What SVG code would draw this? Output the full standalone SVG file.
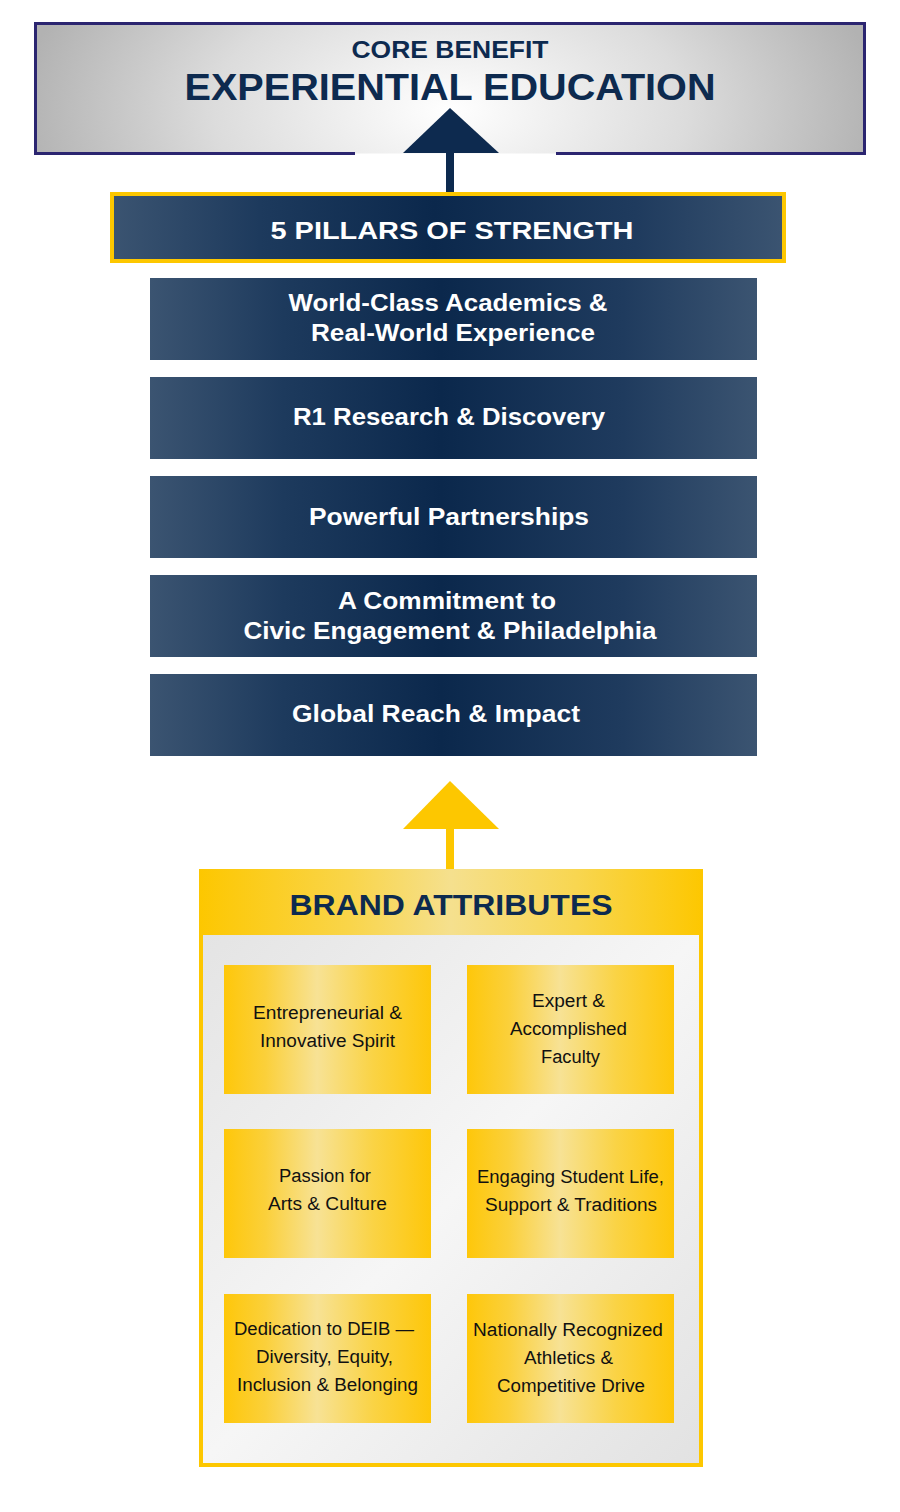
<svg xmlns="http://www.w3.org/2000/svg" width="900" height="1512" viewBox="0 0 900 1512">
  <defs>
    <radialGradient id="gTop" cx="450" cy="110" r="430" gradientUnits="userSpaceOnUse" gradientTransform="translate(450 110) scale(1 0.55) translate(-450 -110)">
      <stop offset="0" stop-color="#ffffff"/>
      <stop offset="0.55" stop-color="#dcdcdc"/>
      <stop offset="1" stop-color="#b2b2b2"/>
    </radialGradient>
    <linearGradient id="gNavy" x1="0" y1="0" x2="1" y2="0">
      <stop offset="0" stop-color="#3b5471"/>
      <stop offset="0.22" stop-color="#1d3a5d"/>
      <stop offset="0.48" stop-color="#0b284c"/>
      <stop offset="0.78" stop-color="#1f3b5e"/>
      <stop offset="1" stop-color="#3b5471"/>
    </linearGradient>
    <linearGradient id="gHead" x1="0" y1="0" x2="1" y2="0">
      <stop offset="0" stop-color="#fdc700"/>
      <stop offset="0.3" stop-color="#f9d54a"/>
      <stop offset="0.5" stop-color="#f5e08e"/>
      <stop offset="0.75" stop-color="#f8d650"/>
      <stop offset="1" stop-color="#fdc700"/>
    </linearGradient>
    <linearGradient id="gCard" x1="0" y1="0" x2="1" y2="0">
      <stop offset="0" stop-color="#fec70a"/>
      <stop offset="0.2" stop-color="#fbd03a"/>
      <stop offset="0.45" stop-color="#f7e295"/>
      <stop offset="0.72" stop-color="#fad345"/>
      <stop offset="1" stop-color="#fec70a"/>
    </linearGradient>
    <linearGradient id="gPanel" x1="0" y1="0" x2="1" y2="1">
      <stop offset="0" stop-color="#e4e4e4"/>
      <stop offset="0.5" stop-color="#f6f6f6"/>
      <stop offset="1" stop-color="#e2e2e2"/>
    </linearGradient>
  </defs>
  <style>
    .navyT { font-family: "Liberation Sans", Arial, sans-serif; font-weight: bold; fill: #0d2a4f; text-anchor: middle; }
    .whiteT { font-family: "Liberation Sans", Arial, sans-serif; font-weight: bold; fill: #ffffff; text-anchor: middle; font-size: 23px; }
    .cardT { font-family: "Liberation Sans", Arial, sans-serif; fill: #111111; text-anchor: middle; font-size: 18px; }
    .pillar { fill: url(#gNavy); }
    .card { fill: url(#gCard); }
  </style>

  <g id="core-benefit">
    <rect x="35.5" y="23.5" width="829" height="130" fill="url(#gTop)"/>
    <path d="M355 153.5 H35.5 V23.5 H864.5 V153.5 H556" fill="none" stroke="#2b2570" stroke-width="3"/>
    <text class="navyT" x="450" y="58" font-size="23" textLength="197" lengthAdjust="spacingAndGlyphs">CORE BENEFIT</text>
    <text class="navyT" x="450" y="100" font-size="37" textLength="531" lengthAdjust="spacingAndGlyphs">EXPERIENTIAL EDUCATION</text>
  </g>

  <g id="connectors">
    <polygon points="450,108 499,153 403,153" fill="#0d2a4f"/>
    <rect x="446" y="152" width="8" height="42" fill="#0d2a4f"/>
    <polygon points="450,781 499,829 403,829" fill="#fdc700"/>
    <rect x="446" y="828" width="8" height="42" fill="#fdc700"/>
  </g>

  <g id="pillars-title">
    <rect x="112" y="194" width="672" height="67" fill="url(#gNavy)" stroke="#fdc700" stroke-width="4"/>
    <text class="whiteT" x="452" y="239" font-size="27" textLength="363" lengthAdjust="spacingAndGlyphs">5 PILLARS OF STRENGTH</text>
  </g>

  <g id="pillar-1">
    <rect class="pillar" x="150" y="278" width="607" height="82"/>
    <text class="whiteT" x="448" y="311" textLength="319" lengthAdjust="spacingAndGlyphs">World-Class Academics &amp;</text>
    <text class="whiteT" x="453" y="341" textLength="284" lengthAdjust="spacingAndGlyphs">Real-World Experience</text>
  </g>
  <g id="pillar-2">
    <rect class="pillar" x="150" y="377" width="607" height="82"/>
    <text class="whiteT" x="449" y="425" textLength="312" lengthAdjust="spacingAndGlyphs">R1 Research &amp; Discovery</text>
  </g>
  <g id="pillar-3">
    <rect class="pillar" x="150" y="476" width="607" height="82"/>
    <text class="whiteT" x="449" y="525" textLength="280" lengthAdjust="spacingAndGlyphs">Powerful Partnerships</text>
  </g>
  <g id="pillar-4">
    <rect class="pillar" x="150" y="575" width="607" height="82"/>
    <text class="whiteT" x="447" y="609" textLength="218" lengthAdjust="spacingAndGlyphs">A Commitment to</text>
    <text class="whiteT" x="450" y="639" textLength="413" lengthAdjust="spacingAndGlyphs">Civic Engagement &amp; Philadelphia</text>
  </g>
  <g id="pillar-5">
    <rect class="pillar" x="150" y="674" width="607" height="82"/>
    <text class="whiteT" x="436" y="722" textLength="288" lengthAdjust="spacingAndGlyphs">Global Reach &amp; Impact</text>
  </g>

  <g id="brand-attributes">
    <rect x="199" y="869" width="504" height="598" fill="#fdc700"/>
    <rect x="199" y="869" width="504" height="66" fill="url(#gHead)"/>
    <rect x="203" y="935" width="496" height="528" fill="url(#gPanel)"/>
    <text class="navyT" x="451" y="915" font-size="29" textLength="323" lengthAdjust="spacingAndGlyphs">BRAND ATTRIBUTES</text>
  </g>

  <g id="attr-1">
    <rect class="card" x="224" y="965" width="207" height="129"/>
    <text class="cardT" x="327.5" y="1019" textLength="149" lengthAdjust="spacingAndGlyphs">Entrepreneurial &amp;</text>
    <text class="cardT" x="327.5" y="1047" textLength="135" lengthAdjust="spacingAndGlyphs">Innovative Spirit</text>
  </g>
  <g id="attr-2">
    <rect class="card" x="467" y="965" width="207" height="129"/>
    <text class="cardT" x="568.5" y="1007" textLength="73" lengthAdjust="spacingAndGlyphs">Expert &amp;</text>
    <text class="cardT" x="568.5" y="1035" textLength="117" lengthAdjust="spacingAndGlyphs">Accomplished</text>
    <text class="cardT" x="570.5" y="1063" textLength="59" lengthAdjust="spacingAndGlyphs">Faculty</text>
  </g>
  <g id="attr-3">
    <rect class="card" x="224" y="1129" width="207" height="129"/>
    <text class="cardT" x="325" y="1182" textLength="92" lengthAdjust="spacingAndGlyphs">Passion for</text>
    <text class="cardT" x="327.5" y="1210" textLength="119" lengthAdjust="spacingAndGlyphs">Arts &amp; Culture</text>
  </g>
  <g id="attr-4">
    <rect class="card" x="467" y="1129" width="207" height="129"/>
    <text class="cardT" x="570.5" y="1183" textLength="187" lengthAdjust="spacingAndGlyphs">Engaging Student Life,</text>
    <text class="cardT" x="571" y="1211" textLength="172" lengthAdjust="spacingAndGlyphs">Support &amp; Traditions</text>
  </g>
  <g id="attr-5">
    <rect class="card" x="224" y="1294" width="207" height="129"/>
    <text class="cardT" x="324" y="1335" textLength="180" lengthAdjust="spacingAndGlyphs">Dedication to DEIB —</text>
    <text class="cardT" x="324.5" y="1363" textLength="137" lengthAdjust="spacingAndGlyphs">Diversity, Equity,</text>
    <text class="cardT" x="327.5" y="1391" textLength="181" lengthAdjust="spacingAndGlyphs">Inclusion &amp; Belonging</text>
  </g>
  <g id="attr-6">
    <rect class="card" x="467" y="1294" width="207" height="129"/>
    <text class="cardT" x="568" y="1336" textLength="190" lengthAdjust="spacingAndGlyphs">Nationally Recognized</text>
    <text class="cardT" x="568.5" y="1364" textLength="89" lengthAdjust="spacingAndGlyphs">Athletics &amp;</text>
    <text class="cardT" x="571" y="1392" textLength="148" lengthAdjust="spacingAndGlyphs">Competitive Drive</text>
  </g>
</svg>
